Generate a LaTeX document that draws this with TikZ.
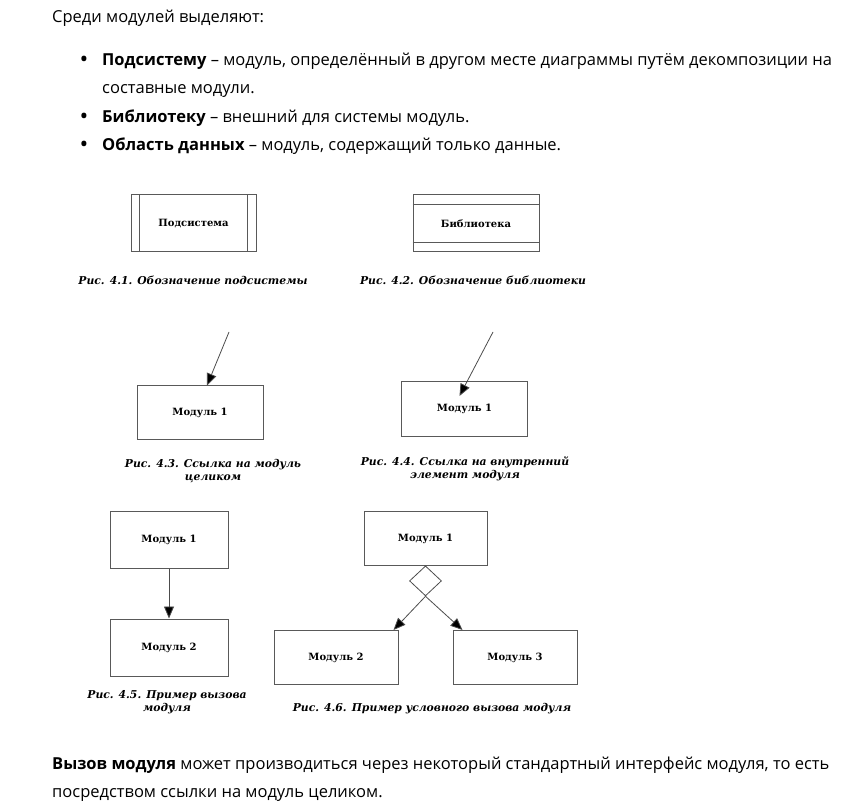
\documentclass[tikz,border=0pt]{standalone}
\usepackage{fontspec}
\setmainfont{Open Sans}
\newfontfamily\figfont{DejaVu Serif}
\usetikzlibrary{arrows.meta,shapes.geometric,positioning}

\begin{document}
\begin{tikzpicture}[x=1pt,y=-1pt,
                    body/.style={anchor=base west,inner sep=0pt,font=\fontsize{16.5}{20}\selectfont},
                    bullet/.style={anchor=base,inner sep=0pt,font=\bfseries\fontsize{18}{20}\selectfont},
                    module/.style={rectangle,draw=black!65,line width=1pt,font=\figfont\bfseries\fontsize{10}{12}\selectfont},
                    caption/.style={inner sep=0pt,align=center,font=\figfont\bfseries\itshape\fontsize{10.8}{13}\selectfont},
                    link/.style={draw=black!70,line width=0.8pt,-{Triangle[length=12pt,width=10pt,fill=black]}}]

        \useasboundingbox (0,0) rectangle (847,810);

        % Text above
        \node[body] (intro) at (52,23) {Среди модулей выделяют:};
        \node[bullet] (b1) at (84,66) {•};
        \node[body] (t1) at (102,66) {\textbf{Подсистему} – модуль, определённый в другом месте диаграммы путём декомпозиции на};
        \node[body] (t1b) at (102,94) {составные модули.};
        \node[bullet] (b2) at (84,123) {•};
        \node[body] (t2) at (102,123) {\textbf{Библиотеку} – внешний для системы модуль.};
        \node[bullet] (b3) at (84,151) {•};
        \node[body] (t3) at (102,151) {\textbf{Область данных} – модуль, содержащий только данные.};

        % Define modules
        \node[module,minimum width=125pt,minimum height=57pt] (sub) at (193.5,223.5) {Подсистема};
        \node[module,minimum width=126pt,minimum height=57pt] (lib) at (476,223.5) {Библиотека};
        \node[module,minimum width=126pt,minimum height=54pt] (m43) at (200,413) {Модуль 1};
        \node[module,minimum width=126pt,minimum height=55pt] (m44) at (464.5,409) {Модуль 1};
        \node[module,minimum width=118pt,minimum height=56pt] (m45a) at (169,540) {Модуль 1};
        \node[module,minimum width=118pt,minimum height=57pt] (m45b) at (169,647.5) {Модуль 2};
        \node[module,minimum width=123pt,minimum height=53pt] (m46a) at (425.5,538.5) {Модуль 1};
        \node[draw=black!70,line width=0.8pt,diamond,inner sep=0pt,minimum width=32pt,minimum height=30pt,below=0pt of m46a] (cond) {};
        \node[module,minimum width=124pt,minimum height=54pt] (m46b) at (336,657.5) {Модуль 2};
        \node[module,minimum width=124pt,minimum height=54pt] (m46c) at (515,657.5) {Модуль 3};
        \coordinate (r43) at (229,332);
        \coordinate (r44) at (493,332);

        % Inner lines
        \draw[draw=black!65,line width=1pt] ([xshift=9pt]sub.north west) -- ([xshift=9pt]sub.south west)
            ([xshift=-9pt]sub.north east) -- ([xshift=-9pt]sub.south east);
        \draw[draw=black!65,line width=1pt] ([yshift=-10pt]lib.north west) -- ([yshift=-10pt]lib.north east)
            ([yshift=10pt]lib.south west) -- ([yshift=10pt]lib.south east);

        % Draw links
        \draw[link] (r43) -- ([xshift=7pt]m43.north);
        \draw[link] (r44) -- ([shift={(-5,-13)}]m44.center);
        \draw[link] (m45a.south) -- (m45b.north);
        \draw[link] (cond.south) -- ([xshift=-5pt]m46b.north east);
        \draw[link] (cond.south) -- ([xshift=10pt]m46c.north west);

        % Captions
        \node[caption] (c41) at (193,280) {Рис. 4.1. Обозначение подсистемы};
        \node[caption] (c42) at (473,280) {Рис. 4.2. Обозначение библиотеки};
        \node[caption] (c43) at (213,471) {Рис. 4.3. Ссылка на модуль\\целиком};
        \node[caption] (c44) at (465,468.5) {Рис. 4.4. Ссылка на внутренний\\элемент модуля};
        \node[caption] (c45) at (167,702.5) {Рис. 4.5. Пример вызова\\модуля};
        \node[caption] (c46) at (432,709) {Рис. 4.6. Пример условного вызова модуля};

        % Text below
        \node[body] (t4) at (52,769) {\textbf{Вызов модуля} может производиться через некоторый стандартный интерфейс модуля, то есть};
        \node[body] (t4b) at (52,797) {посредством ссылки на модуль целиком.};
\end{tikzpicture}
\end{document}
